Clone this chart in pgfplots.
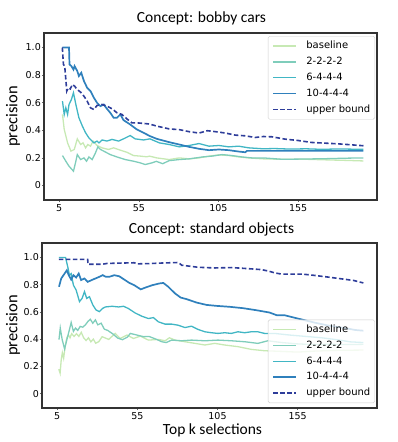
\documentclass[border=0pt]{standalone}
\usepackage{pgfplots}
\pgfplotsset{compat=1.18}
\usepackage{fontspec}
\setmainfont{DejaVu Sans}
\newfontfamily\carlito{Carlito}
\definecolor{cBase}{HTML}{C7E9B4}
\definecolor{cTwo}{HTML}{7FCDBB}
\definecolor{cSix}{HTML}{41B6C4}
\definecolor{cTen}{HTML}{2F80BC}
\definecolor{cUp}{HTML}{2E3D9A}
\pgfplotsset{
  myax/.style={
    scale only axis,
    xmin=-4.5, xmax=204.5, ymin=-0.105, ymax=1.105,
    xtick={5,55,105,155}, xticklabels={5,55,105,155},
    ytick={0,0.2,0.4,0.6,0.8,1.0}, yticklabels={0,0.2,0.4,0.6,0.8,1.0},
    tick align=outside, xtick pos=bottom, ytick pos=left,
    major tick length=2pt,
    tick style={color=black!60, line width=0.6pt},
    axis line style={draw=black!80, line width=1.1pt},
    ticklabel style={font=\fontsize{9.5}{11}\selectfont},
    yticklabel style={inner xsep=1pt},
    xticklabel style={inner ysep=2pt},
    /pgf/number format/assume math mode=true,
    ylabel={precision},
    title style={font=\carlito\fontsize{15.5}{18}\selectfont},
    legend cell align=left,
    legend image code/.code={\draw[#1] (0pt,0pt) -- (23pt,0pt);},
    legend style={draw=black!20, fill=white, fill opacity=0.8, draw opacity=1, text opacity=1,
      font=\fontsize{10}{12}\selectfont, row sep=6pt, column sep=9pt,
      inner xsep=4.5pt, inner ysep=5pt, rounded corners=1.5pt,
      nodes={inner sep=0pt, anchor=west, text height=7.6pt, text depth=2.2pt}},
  },
  sBase/.style={color=cBase, line width=1.3pt, no markers},
  sTwo/.style={color=cTwo, line width=1.3pt, no markers},
  sSix/.style={color=cSix, line width=1.3pt, no markers},
  sTen/.style={color=cTen, line width=1.7pt, no markers},
  sUp/.style={color=cUp, line width=1.6pt, dash pattern=on 4.5pt off 2.5pt, no markers},
}
\begin{document}
\begin{tikzpicture}
\useasboundingbox (0pt,0pt) rectangle (397pt,-442pt);
% ---------------- top ----------------
\begin{axis}[myax, at={(44pt,-200pt)}, anchor=south west, width=333pt, height=167pt,
  title={Concept: bobby cars},
  title style={at={(axis description cs:0.5,1)}, anchor=base, yshift=5pt, xshift=-9pt},
  every axis y label/.style={at={(axis description cs:-0.08,0.5)}, rotate=90, anchor=base,
    font=\carlito\fontsize{16.5}{19}\selectfont},
  legend style={at={(rel axis cs:0.994,0.982)}, anchor=north east},
]
\addplot[sBase] coordinates {
(7.1,0.515) (8.2,0.406) (10.3,0.309) (12.4,0.249) (14.5,0.261) (16.4,0.338) (18.5,0.297)
(20,0.309) (21.6,0.273) (23,0.297) (24.7,0.285) (26.3,0.322) (28.8,0.29) (31.9,0.273)
(36,0.261) (39.2,0.273) (43.4,0.256) (47.5,0.241) (51.7,0.217) (55.9,0.213) (60,0.208)
(61.7,0.213) (66.3,0.2) (74.1,0.188) (80.4,0.2) (86.6,0.193) (92.8,0.2) (99,0.213)
(105.3,0.222) (111.5,0.217) (117.7,0.207) (123.9,0.2) (133.2,0.193) (145,0.19) (160,0.19)
(175,0.185) (185,0.182) (196,0.178)};
\addlegendentry{baseline}
\addplot[sTwo] coordinates {
(7.1,0.217) (9.2,0.176) (11.2,0.14) (14,0.104) (15.5,0.176) (16.4,0.224) (18.5,0.188)
(20.6,0.2) (22.2,0.176) (23.7,0.207) (25.7,0.188) (27.8,0.236) (29.3,0.28) (31,0.261)
(33,0.249) (37.1,0.224) (41.3,0.207) (46.5,0.188) (51.7,0.176) (55.9,0.164) (59,0.152)
(63.2,0.164) (66,0.175) (70,0.158) (74,0.18) (80.4,0.188) (86.6,0.193) (95,0.207)
(101,0.213) (107.3,0.224) (113.5,0.217) (119.7,0.207) (125.9,0.2) (133.2,0.2) (145,0.19)
(160,0.192) (175,0.195) (185,0.198) (196,0.2)};
\addlegendentry{2-2-2-2}
\addplot[sSix] coordinates {
(7.1,0.611) (8.2,0.515) (9.2,0.563) (10.3,0.515) (11.2,0.587) (12.7,0.623) (14,0.672)
(15.5,0.587) (17.4,0.491) (19.6,0.43) (21.6,0.382) (23.7,0.345) (26.8,0.309) (28.8,0.322)
(30,0.309) (32,0.33) (35,0.322) (38.2,0.334) (42.3,0.322) (45.4,0.338) (49.6,0.362)
(52.7,0.338) (58,0.33) (62,0.338) (67.9,0.309) (74.1,0.297) (80.4,0.28) (86.6,0.29)
(92.8,0.304) (99,0.285) (105.3,0.29) (111.5,0.28) (117.7,0.285) (123.9,0.273)
(133.2,0.266) (140,0.268) (150,0.264) (160,0.266) (170,0.262) (180,0.265) (196,0.262)};
\addlegendentry{6-4-4-4}
\addplot[sTen] coordinates {
(7,1.0) (11.2,1.0) (11.5,0.877) (12.7,0.865) (14,0.84) (14.7,0.865) (16.4,0.829)
(17.4,0.793) (18.9,0.817) (20.6,0.756) (22.6,0.708) (24.7,0.684) (26.8,0.636)
(28.8,0.599) (30.9,0.575) (33,0.587) (35,0.556) (37.1,0.527) (39.2,0.491) (41.3,0.491)
(43.4,0.515) (45.4,0.474) (49.6,0.442) (53.8,0.406) (58,0.382) (62,0.358) (66.3,0.338)
(74.1,0.314) (80.4,0.297) (86.6,0.28) (92.8,0.266) (99,0.256) (105.3,0.261)
(111.5,0.256) (117.7,0.246) (121.8,0.241) (122.9,0.251) (196,0.251)};
\addlegendentry{10-4-4-4}
\addplot[sUp] coordinates {
(7,1.0) (7.7,0.877) (8.5,0.865) (9.8,0.684) (10.8,0.708) (12,0.70) (13.3,0.732)
(14.7,0.72) (16.4,0.695) (18.5,0.676) (20.6,0.647) (22.6,0.611) (24.7,0.563)
(26.8,0.551) (28.8,0.58) (31.9,0.587) (35,0.575) (38.2,0.556) (41.3,0.527) (44.4,0.515)
(47.5,0.483) (50.7,0.454) (53.8,0.454) (58,0.45) (62,0.445) (66.3,0.43) (68,0.426)
(74.1,0.41) (80.4,0.405) (86.6,0.39) (92.8,0.38) (98,0.397) (103.2,0.39) (109.4,0.38)
(115.6,0.365) (121.8,0.36) (128,0.348) (133.2,0.355) (138.5,0.353) (146.8,0.336)
(155.1,0.326) (163.4,0.312) (171.7,0.307) (180,0.302) (188.3,0.295) (196,0.288)};
\addlegendentry{upper bound}
\end{axis}
% ---------------- bottom ----------------
\begin{axis}[myax, at={(42pt,-408pt)}, anchor=south west, width=335pt, height=165pt,
  title={Concept: standard objects},
  title style={at={(axis description cs:0.5,1)}, anchor=base, yshift=4pt, xshift=2pt},
  xlabel={Top k selections},
  every axis x label/.style={at={(axis description cs:0.5,0)}, anchor=base, yshift=-26.5pt, xshift=3pt,
    font=\carlito\fontsize{15.5}{18}\selectfont},
  every axis y label/.style={at={(axis description cs:-0.0735,0.5)}, rotate=90, anchor=base,
    font=\carlito\fontsize{16.5}{19}\selectfont},
  legend style={at={(rel axis cs:0.994,0.03)}, anchor=south east},
]
\addplot[sBase] coordinates {
(6,0.18) (6.8,0.15) (7.5,0.25) (8.2,0.3) (9,0.26) (10,0.35) (11,0.41) (12,0.43) (13,0.41)
(14,0.44) (15.5,0.42) (17,0.44) (18.5,0.42) (20,0.45) (21.5,0.41) (23,0.39) (24.5,0.41)
(26,0.38) (27.5,0.4) (29,0.37) (30.9,0.381) (33,0.418) (37.1,0.398) (41.2,0.442)
(44.3,0.405) (48.5,0.43) (52.6,0.405) (56.8,0.422) (61.9,0.393) (68.1,0.398) (72.3,0.388)
(75,0.41) (78.5,0.393) (84.7,0.381) (90.9,0.369) (97.1,0.357) (103.3,0.369) (109.5,0.357)
(117.7,0.345) (126,0.325) (134.3,0.315) (145,0.31) (155,0.305) (165,0.312) (180,0.318)
(196,0.32)};
\addlegendentry{baseline}
\addplot[sTwo] coordinates {
(6.1,0.396) (6.9,0.481) (8.1,0.396) (9.6,0.328) (11,0.396) (12.6,0.469) (13.7,0.522)
(15.1,0.457) (16.4,0.481) (17.8,0.464) (19.3,0.493) (20.9,0.488) (22.6,0.505) (24.1,0.529)
(25.6,0.546) (27.2,0.517) (28.8,0.541) (30.3,0.505) (32.4,0.517) (34.4,0.473) (36.5,0.464)
(39.6,0.439) (42.7,0.408) (45.7,0.396) (48.8,0.415) (50.6,0.442) (54.7,0.43) (58.9,0.418)
(62.2,0.42) (66.4,0.401) (70.2,0.381) (73,0.375) (76.4,0.393) (82.6,0.388) (88.8,0.393)
(97.1,0.388) (105.3,0.393) (113.6,0.388) (121.9,0.381) (130.2,0.369) (136.4,0.388)
(145,0.375) (155,0.365) (165,0.36) (175,0.362) (185,0.36) (196,0.362)};
\addlegendentry{2-2-2-2}
\addplot[sSix] coordinates {
(6,0.998) (10.2,0.998) (11.6,0.929) (12.6,0.869) (13.7,0.881) (15.1,0.796) (16.8,0.76)
(18.9,0.675) (20.5,0.699) (22,0.748) (23.4,0.699) (25.1,0.711) (27.2,0.651) (29.2,0.614)
(31.3,0.602) (33.4,0.626) (35,0.636) (39.2,0.641) (43.3,0.636) (46.4,0.641) (49.5,0.624)
(53.6,0.592) (57.8,0.568) (61.9,0.551) (65,0.558) (68.1,0.527) (72.3,0.51) (76.4,0.51)
(80.5,0.502) (84.7,0.485) (88.8,0.495) (92.9,0.471) (97.1,0.454) (101.2,0.447)
(105.3,0.442) (109.5,0.447) (113.6,0.442) (117.7,0.454) (121.9,0.447) (126,0.454)
(130.2,0.454) (134.3,0.442) (140.5,0.442) (150,0.43) (160,0.42) (170,0.41) (180,0.395)
(188,0.38) (196,0.375)};
\addlegendentry{6-4-4-4}
\addplot[sTen] coordinates {
(6.1,0.784) (7.5,0.845) (9.6,0.881) (11,0.905) (12.2,0.869) (13.7,0.837) (15.1,0.869)
(16.8,0.852) (18.4,0.881) (19.9,0.833) (22,0.845) (24,0.82) (27.2,0.837) (30.3,0.852)
(33.4,0.869) (35.4,0.857) (37.5,0.857) (40.6,0.869) (43.7,0.861) (46.8,0.837) (49.9,0.813)
(53,0.796) (57.1,0.765) (60.2,0.779) (64.4,0.796) (68.5,0.808) (71.2,0.812) (74.3,0.784)
(78.4,0.736) (82,0.705) (85.8,0.693) (92,0.668) (98.2,0.651) (104.4,0.644) (112.7,0.637)
(121,0.627) (129.3,0.612) (137.5,0.595) (142,0.575) (147,0.575) (152,0.56) (159,0.54)
(166,0.52) (174,0.5) (185,0.48) (191,0.467) (196,0.462)};
\addlegendentry{10-4-4-4}
\addplot[sUp] coordinates {
(6,0.985) (24,0.985) (24.2,0.949) (33,0.949) (36,0.955) (45,0.958) (53,0.96) (55,0.952)
(62,0.954) (70,0.958) (80.6,0.962) (82.7,0.942) (93,0.927) (103.4,0.922) (113.7,0.925)
(124,0.917) (132.3,0.91) (136.5,0.9) (141,0.885) (145,0.877) (158,0.877) (165,0.868)
(174,0.855) (185,0.838) (190,0.83) (196,0.812)};
\addlegendentry{upper bound}
\end{axis}
\end{tikzpicture}
\end{document}
